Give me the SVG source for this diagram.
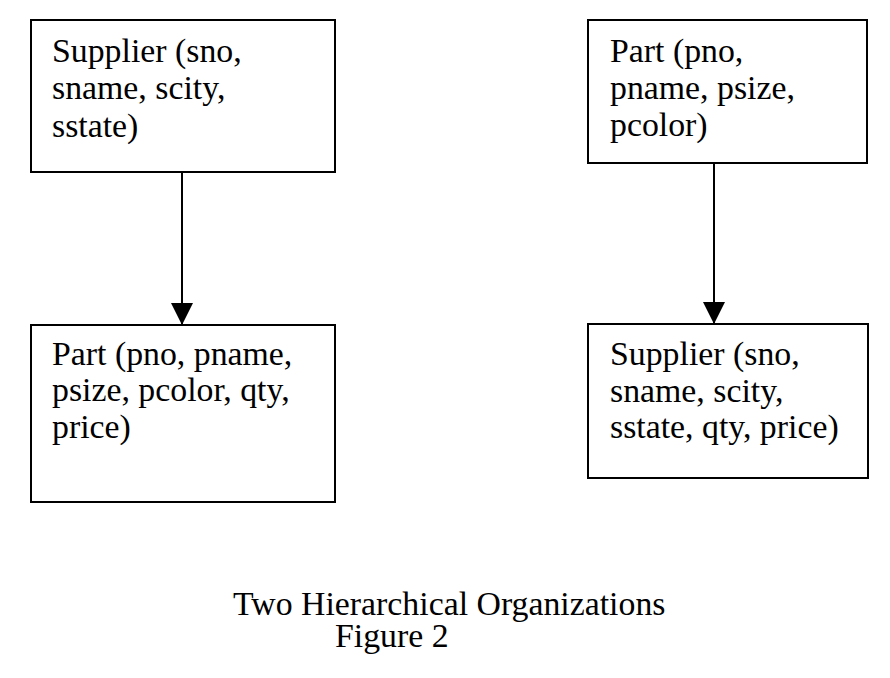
<svg xmlns="http://www.w3.org/2000/svg" width="890" height="678" viewBox="0 0 890 678">
<style>
.box{fill:#fff;stroke:#000;stroke-width:2}
.t{font-family:"Liberation Serif","Times New Roman",serif;font-size:33.8px;fill:#000}
.c{stroke:#000;stroke-width:2;fill:none}
</style>
<defs>
<marker id="ah" markerUnits="userSpaceOnUse" markerWidth="22" markerHeight="24" refX="22" refY="11" orient="auto">
<path d="M0,0 L22,11 L0,22 Z" fill="#000"/>
</marker>
</defs>
<rect width="890" height="678" fill="#fff"/>
<g id="connectors">
<line class="c" x1="182" y1="172" x2="182" y2="325" marker-end="url(#ah)"/>
<line class="c" x1="714" y1="163" x2="714" y2="324" marker-end="url(#ah)"/>
</g>
<g id="supplier-top">
<rect class="box" x="31" y="20" width="304" height="152"/>
<text class="t"><tspan x="52" y="62">Supplier (sno,</tspan><tspan x="52" y="99">sname, scity,</tspan><tspan x="52" y="137">sstate)</tspan></text>
</g>
<g id="part-bottom">
<rect class="box" x="31" y="325" width="304" height="177"/>
<text class="t"><tspan x="52" y="365">Part (pno, pname,</tspan><tspan x="52" y="401">psize, pcolor, qty,</tspan><tspan x="52" y="438">price)</tspan></text>
</g>
<g id="part-top">
<rect class="box" x="588" y="20" width="279" height="143"/>
<text class="t"><tspan x="610" y="62">Part (pno,</tspan><tspan x="610" y="99">pname, psize,</tspan><tspan x="610" y="136">pcolor)</tspan></text>
</g>
<g id="supplier-bottom">
<rect class="box" x="588" y="324" width="280" height="154"/>
<text class="t"><tspan x="610" y="365">Supplier (sno,</tspan><tspan x="610" y="402">sname, scity,</tspan><tspan x="610" y="438">sstate, qty, price)</tspan></text>
</g>
<g id="caption">
<text class="t" x="233" y="615">Two Hierarchical Organizations</text>
<text class="t" x="335" y="647">Figure 2</text>
</g>
</svg>
